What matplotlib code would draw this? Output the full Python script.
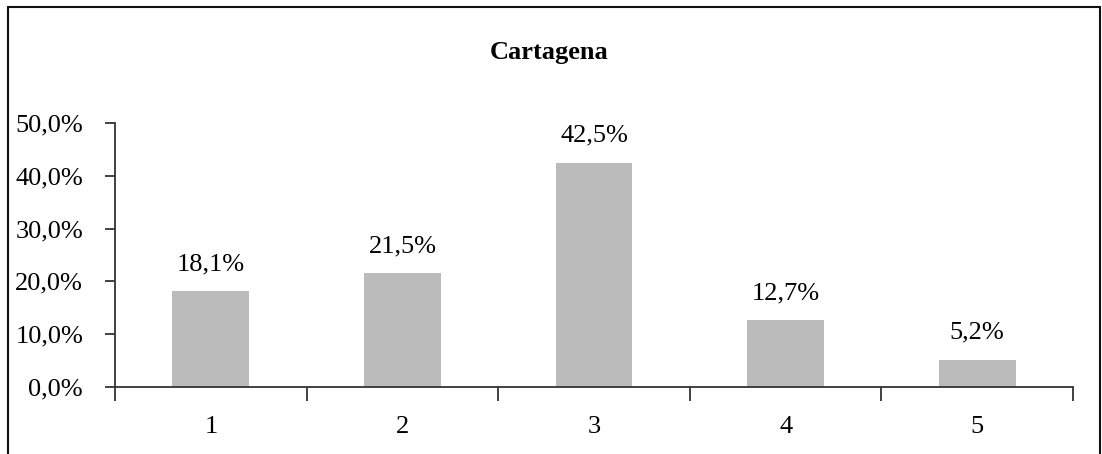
import matplotlib.pyplot as plt
from matplotlib.patches import Rectangle
from matplotlib.ticker import FixedLocator, FuncFormatter

categories = ["1", "2", "3", "4", "5"]
shares = [18.1, 21.5, 42.5, 12.7, 5.2]
y_ticks = [0, 10, 20, 30, 40, 50]
title = "Cartagena"

plt.rcParams["font.family"] = ["Liberation Serif", "DejaVu Serif"]


def pct(v, _=None):
    return f"{v:.1f}%".replace(".", ",")


fig = plt.figure(figsize=(11.02, 4.54), dpi=100)
ax = fig.add_axes([115 / 1102, 67 / 454, 958 / 1102, 264 / 454])

x = range(len(categories))
bars = ax.bar(x, shares, width=0.4, color="#bbbbbb")
for b, v in zip(bars, shares):
    ax.text(b.get_x() + b.get_width() / 2, v + 3.0, pct(v),
            ha="center", va="bottom", fontsize=19)

ax.set_xlim(-0.5, len(categories) - 0.5)
ax.set_ylim(0, 50)
ax.set_yticks(y_ticks)
ax.yaxis.set_major_formatter(FuncFormatter(pct))
ax.set_xticks(list(x))
ax.set_xticklabels(categories)
# tick marks sit on the category boundaries, labels at centres
ax.xaxis.set_minor_locator(FixedLocator([i - 0.5 for i in range(len(categories) + 1)]))
ax.tick_params(axis="x", which="major", length=0, pad=21, labelsize=19)
ax.tick_params(axis="x", which="minor", length=10, width=1.3, color="#333333")
ax.tick_params(axis="y", length=7, width=1.3, color="#333333", pad=16, labelsize=19)

for side in ("top", "right"):
    ax.spines[side].set_visible(False)
for side in ("left", "bottom"):
    ax.spines[side].set_linewidth(1.3)
    ax.spines[side].set_color("#333333")

fig.text(549 / 1102, 1 - 52 / 454, title, ha="center", va="center",
         fontsize=19, fontweight="bold")

# frame round the chart area
fig.add_artist(Rectangle((7.5 / 1102, -0.1), 1092 / 1102, 1.1 - 7.5 / 454,
                         transform=fig.transFigure, fill=False,
                         edgecolor="#111111", linewidth=1.5))

fig.savefig("out.png", dpi=100)
